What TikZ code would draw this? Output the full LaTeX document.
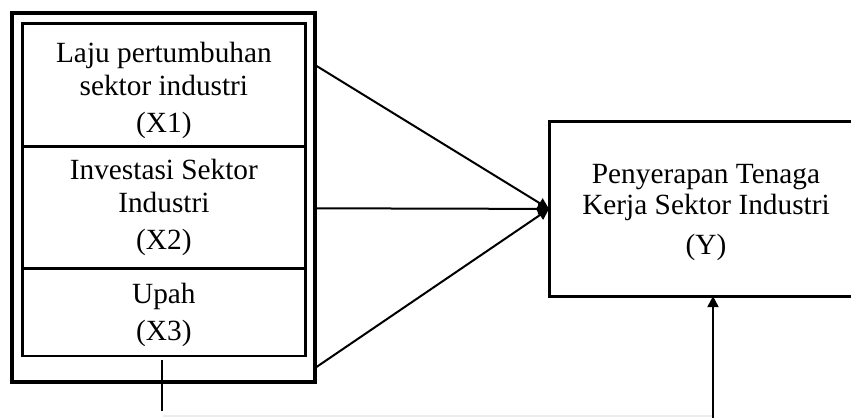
\documentclass[tikz,border=0pt]{standalone}
\usepackage{fontspec}
\setmainfont{Liberation Serif}
\usetikzlibrary{arrows.meta}
\usetikzlibrary{positioning}
\tikzset{varbox/.style={draw, line width=1.4pt, inner sep=0pt, outer sep=0pt,
		minimum width=141.2pt, align=center},
	bigbox/.style={draw, line width=2pt, inner sep=0pt, outer sep=0pt},
	arr/.style={line width=1pt, -{Triangle[length=5.5pt,width=5.5pt]}}}
\newcommand{\boxfont}{\fontsize{14.65}{16.5}\selectfont}

\begin{document}
\begin{tikzpicture}[x=0.5pt, y=-0.5pt]
	\useasboundingbox (0,0) rectangle (851,418);
	\clip (0,0) rectangle (851,418);

	% outer frame round the three variables
	\node[bigbox, minimum width=151.7pt, minimum height=184.5pt] (grp) at (163.4,197.2) {};

	\node[varbox, minimum height=61.7pt] (x1) at (163.9,85) {};
	\node[varbox, minimum height=60.8pt] (x2) at (163.9,207.5) {};
	\node[varbox, minimum height=43.85pt] (x3) at (163.9,312.2) {};

	\node[align=center, font=\boxfont] (t1) at ([yshift=-2.5pt]x1.center) {Laju pertumbuhan\\sektor industri\\[2pt](X1)};
	\node[align=center, font=\boxfont] (t2) at (x2.center) {Investasi Sektor\\Industri\\[2pt](X2)};
	\node[align=center, font=\boxfont] (t3) at ([yshift=-1.5pt]x3.center) {Upah\\[2pt](X3)};

	% dependent variable
	\node[draw, line width=1.5pt, inner sep=0pt, outer sep=0pt, minimum width=157pt,
		minimum height=87.2pt] (y) at (706,208.9) {};
	\node[align=center, font=\boxfont] (ty) at ([yshift=-2pt]y.center) {Penyerapan Tenaga\\[-1pt]Kerja Sektor Industri\\[3.5pt](Y)};

	\coordinate (a1) at (315,65);
	\coordinate (a2) at (315,208.3);
	\coordinate (a3) at (315,368);
	\draw[arr] (a1) -- (y.west);
	\draw[arr] (a2) -- (y.west);
	\draw[arr] (a3) -- (y.west);

	% lines to the bottom (cut off)
	\coordinate (b1) at (162,360);
	\coordinate (b2) at (162,411);
	\draw[line width=0.8pt] (b1) -- (b2);
	\coordinate (c1) at (713,418);
	\coordinate (c2) at (163,416);
	\draw[gray!15, line width=0.6pt] (c2) -- (c1 |- c2);
	\draw[arr] (c1) -- (y.south -| c1);
\end{tikzpicture}
\end{document}
